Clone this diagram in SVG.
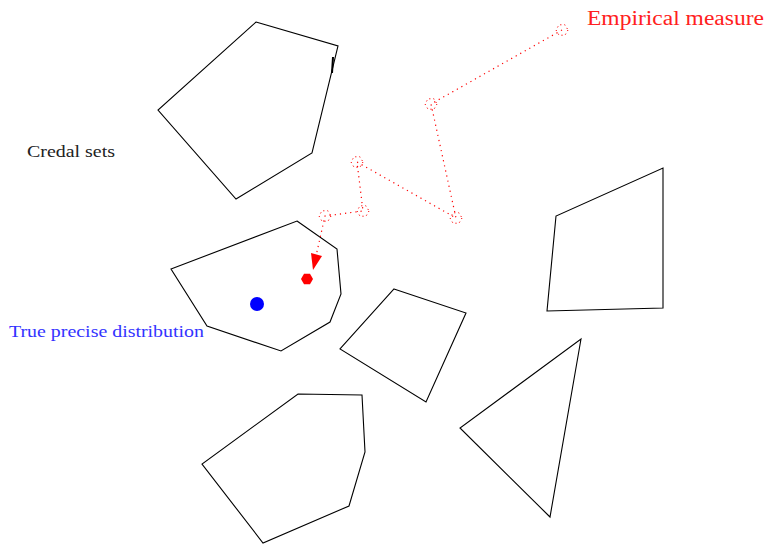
<svg xmlns="http://www.w3.org/2000/svg" width="769" height="544" viewBox="0 0 769 544">
<style>
.cs{fill:none;stroke:#000;stroke-width:1.1;stroke-linejoin:miter}
.dot{fill:none;stroke:#ff0000;stroke-width:1.2;stroke-dasharray:1.2 4}
.hx{fill:none;stroke:#ff0000;stroke-width:1;stroke-dasharray:1.2 3}
.lbl{font-family:"Liberation Serif","DejaVu Serif",serif}
</style>
<rect width="769" height="544" fill="#fff"/>
<g id="credal1"><polygon class="cs" points="256,22 338,46 312,153 236,199 158,110"/><line x1="333" y1="57" x2="332" y2="73" stroke="#000" stroke-width="2"/></g>
<g id="credal2"><polygon class="cs" points="297,221 337,249 341,294 330,322 281,351 207,326 171,269"/></g>
<g id="credal3"><polygon class="cs" points="394,289 466,313 426,402 340,349"/></g>
<g id="credal4"><polygon class="cs" points="663,168 663,308 547,311 556,216"/></g>
<g id="credal5"><polygon class="cs" points="581,339 550,517 460,428"/></g>
<g id="credal6"><polygon class="cs" points="298,394 362,395 365,452 349,506 263,543 202,464"/></g>
<g id="connectors">
<polyline class="dot" points="562,30 431,104 456,218 357,162 363,211 325,216 316,256"/>
<g class="hx">
<polygon points="568,30 565,35.2 559,35.2 556,30 559,24.8 565,24.8"/>
<polygon points="437,104 434,109.2 428,109.2 425,104 428,98.8 434,98.8"/>
<polygon points="462,218 459,223.2 453,223.2 450,218 453,212.8 459,212.8"/>
<polygon points="363,162 360,167.2 354,167.2 351,162 354,156.8 360,156.8"/>
<polygon points="369,211 366,216.2 360,216.2 357,211 360,205.8 366,205.8"/>
<polygon points="331,216 328,221.2 322,221.2 319,216 322,210.8 328,210.8"/>
</g>
<polygon points="311,253 322,256 313,270" fill="#ff0000"/>
</g>
<g id="empirical"><polygon points="313,279 310,284.2 304,284.2 301,279 304,273.8 310,273.8" fill="#ff0000"/></g>
<g id="true"><circle cx="257" cy="304" r="7" fill="#0000ff"/></g>
<text class="lbl" x="587" y="25" font-size="20" fill="#ff2020" textLength="177" lengthAdjust="spacingAndGlyphs">Empirical measure</text>
<text class="lbl" x="27" y="157" font-size="16" fill="#222" textLength="88" lengthAdjust="spacingAndGlyphs">Credal sets</text>
<text class="lbl" x="9" y="337" font-size="16" fill="#3333ff" textLength="195" lengthAdjust="spacingAndGlyphs">True precise distribution</text>
</svg>
